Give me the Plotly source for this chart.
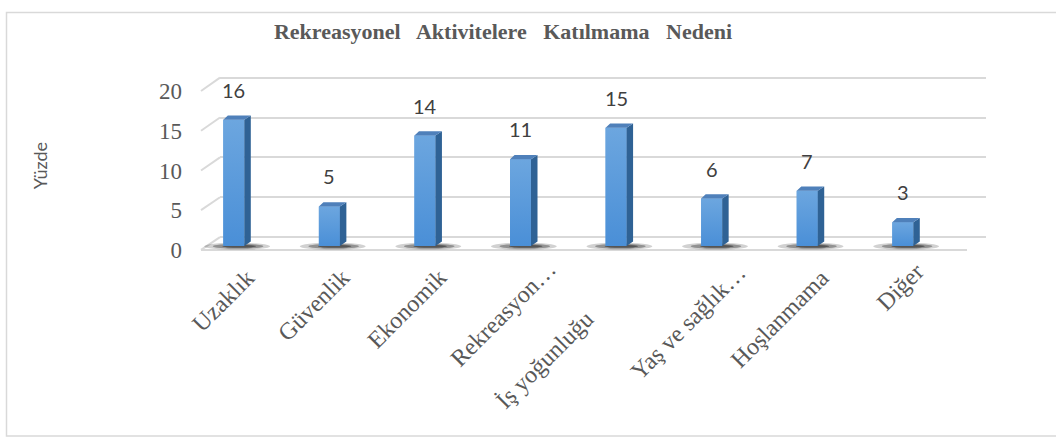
import plotly.graph_objects as go

# ---------------- data ----------------
categories = ["Uzaklık", "Güvenlik", "Ekonomik", "Rekreasyon…", "İş yoğunluğu",
              "Yaş ve sağlık…", "Hoşlanmama", "Diğer"]
values = [16, 5, 14, 11, 15, 6, 7, 3]
y_ticks = [0, 5, 10, 15, 20]
y_ticktext = ["0", "5", "10", "15", "20"]
chart_title = "Rekreasyonel\u00a0\u00a0 Aktivitelere\u00a0\u00a0 Katılmama\u00a0\u00a0 Nedeni"
y_title = "Yüzde"

# ---------------- layout geometry (pixels) ----------------
W, H = 1056, 448


def fx(p):
    return p / W


def fy(p):
    return 1 - p / H


n = len(categories)
pad = 0.2
# back wall (gridlines)
back_left, back_right, back_y0, back_y20 = 220, 985.7, 238.3, 71
ppu_b = (back_y0 - back_y20) / 20
# front floor edge + tick labels
front_left, front_right, front_y0, front_y20 = 201, 967, 251.7, 85
ppu_f = (front_y0 - front_y20) / 20
# bars
bar_first, bar_last = 233.8, 902.8
cat_px = (bar_last - bar_first) / (n - 1)
bar_y0, ppu_bar = 247.5, 8.27
bar_ymin, bar_ymax = -1.5, 21
bar_w = 21 / cat_px
dx_u = 6.5 / cat_px
dy_u = 4.5 / ppu_bar

grid_col = "#d9d9d9"
text_col = "#595959"

fig = go.Figure()

# subplot 1: back wall gridlines (dummy invisible point to create subplot)
fig.add_trace(go.Scatter(x=[0.5], y=[0], xaxis="x", yaxis="y", mode="markers",
                         marker=dict(opacity=0), hoverinfo="skip", showlegend=False))
# subplot 2: front floor edge line
fig.add_trace(go.Scatter(x=[0, 1], y=[0, 0], xaxis="x2", yaxis="y2", mode="lines",
                         line=dict(color=grid_col, width=2), hoverinfo="skip",
                         showlegend=False))

idx = list(range(n))
# subplot 3: bars (front faces)
fig.add_trace(go.Bar(x=idx, y=values, width=bar_w, xaxis="x3", yaxis="y3",
                     marker=dict(color="#5a9bdb", line=dict(width=0)),
                     hoverinfo="skip", showlegend=False))

# gradient shading of each front face, side faces and top faces derived from values
side_x, side_y, top_x, top_y = [], [], [], []
for i, v in zip(idx, values):
    xl, xr = i - bar_w / 2, i + bar_w / 2
    fig.add_trace(go.Scatter(x=[xl, xr, xr, xl, xl], y=[0, 0, v, v, 0],
                             xaxis="x3", yaxis="y3", mode="lines", fill="toself",
                             fillgradient=dict(type="vertical",
                                               colorscale=[[0, "#4a8fd7"], [1, "#6ca6df"]]),
                             line=dict(width=0), hoverinfo="skip", showlegend=False))
    side_x += [xr, xr + dx_u, xr + dx_u, xr, xr, None]
    side_y += [0, dy_u, v + dy_u, v, 0, None]
    top_x += [xl, xr, xr + dx_u, xl + dx_u * 0.7, xl, None]
    top_y += [v, v, v + dy_u, v + dy_u, v, None]

fig.add_trace(go.Scatter(x=side_x, y=side_y, xaxis="x3", yaxis="y3", mode="lines",
                         fill="toself", fillcolor="#2f6295", line=dict(width=0),
                         hoverinfo="skip", showlegend=False, cliponaxis=False))
fig.add_trace(go.Scatter(x=top_x, y=top_y, xaxis="x3", yaxis="y3", mode="lines",
                         fill="toself", fillcolor="#4f80ba", line=dict(width=0),
                         hoverinfo="skip", showlegend=False, cliponaxis=False))

shapes = []
# border
shapes.append(dict(type="rect", xref="paper", yref="paper", x0=fx(6.5), x1=fx(1060),
                   y0=fy(447), y1=fy(2.5), line=dict(color=grid_col, width=1.5),
                   layer="below"))
# diagonal connectors from front tick position to back wall
for t in y_ticks:
    shapes.append(dict(type="line", xref="paper", yref="paper",
                       x0=fx(front_left), y0=fy(front_y0 - t * ppu_f),
                       x1=fx(back_left), y1=fy(back_y0 - t * ppu_b),
                       line=dict(color=grid_col, width=2), layer="below"))
# shadows under the bars
for i in idx:
    for (a, b, h, op) in [(-0.31, 0.38, 0.45, 0.2), (-0.22, 0.31, 0.32, 0.35),
                          (-0.12, 0.23, 0.2, 0.5)]:
        shapes.append(dict(type="circle", xref="x3", yref="y3",
                           x0=i + a, x1=i + b, y0=-0.05 - h, y1=-0.05 + h,
                           fillcolor="#1a1a1a", opacity=op, line=dict(width=0),
                           layer="below"))

annotations = []
# value labels
for i, v in zip(idx, values):
    annotations.append(dict(x=i, y=v, xref="x3", yref="y3", text=str(v),
                            showarrow=False, yshift=30, yanchor="middle",
                            xanchor="center",
                            font=dict(family="Lato", size=20, color="#404040")))
# category labels (rotated)
label_dx = [28, 28, 29, 43, -15, 42, 29, 29]
label_top = [264, 264, 264, 256, 308, 259, 264, 258]
for i, c in enumerate(categories):
    annotations.append(dict(x=i, y=fy(label_top[i]), xref="x3", yref="paper",
                            text=c, showarrow=False, textangle=-45,
                            xanchor="right", yanchor="top", xshift=label_dx[i],
                            font=dict(family="Liberation Serif", size=24,
                                      color=text_col)))
# y title
annotations.append(dict(x=fx(40), y=fy(164), xref="paper", yref="paper",
                        text=y_title, showarrow=False, textangle=-90,
                        xanchor="center", yanchor="middle",
                        font=dict(family="Lato", size=18, color=text_col)))

fig.update_layout(
    width=W, height=H,
    margin=dict(l=0, r=0, t=0, b=0),
    paper_bgcolor="white", plot_bgcolor="rgba(0,0,0,0)",
    showlegend=False,
    title=dict(text="<b>" + chart_title + "</b>", x=fx(503), y=fy(31),
               xanchor="center", yanchor="middle",
               font=dict(family="Liberation Serif", size=22, color=text_col)),
    xaxis=dict(domain=[fx(back_left), fx(back_right)], range=[0, 1], visible=False,
               anchor="y"),
    yaxis=dict(domain=[fy(back_y0 + pad * ppu_b), fy(back_y20 - pad * ppu_b)],
               range=[-pad, 20 + pad], tickvals=y_ticks, showticklabels=False,
               showgrid=True, gridcolor=grid_col, gridwidth=2, zeroline=False,
               showline=False, ticks="", anchor="x"),
    xaxis2=dict(domain=[fx(front_left), fx(front_right)], range=[0, 1], visible=False,
                anchor="y2"),
    yaxis2=dict(domain=[fy(front_y0 + pad * ppu_f), fy(front_y20 - pad * ppu_f)],
                range=[-pad, 20 + pad], tickvals=y_ticks, ticktext=y_ticktext,
                showgrid=False, zeroline=False, showline=False, ticks="",
                ticklabelstandoff=18, anchor="x2",
                tickfont=dict(family="Liberation Serif", size=23, color=text_col)),
    xaxis3=dict(domain=[fx(bar_first - cat_px / 2), fx(bar_last + cat_px / 2)],
                range=[-0.5, n - 0.5], visible=False, anchor="y3"),
    yaxis3=dict(domain=[fy(bar_y0 - bar_ymin * ppu_bar), fy(bar_y0 - bar_ymax * ppu_bar)],
                range=[bar_ymin, bar_ymax], visible=False, anchor="x3"),
    shapes=shapes,
    annotations=annotations,
)

fig.write_html("out.html", config={"displayModeBar": False},
               post_script="document.body.style.margin='0';")
